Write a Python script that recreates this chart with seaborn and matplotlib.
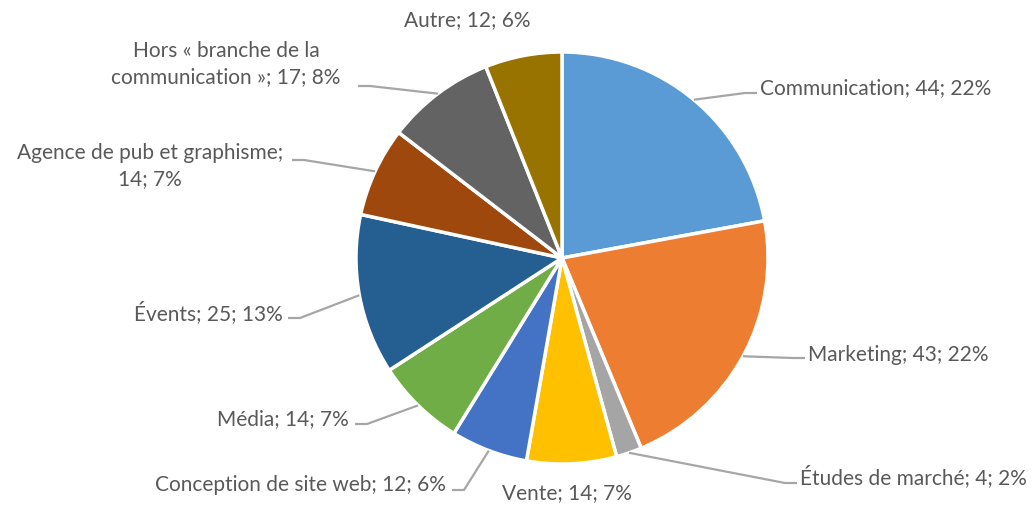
import numpy as np
import matplotlib
matplotlib.use("Agg")
import matplotlib.pyplot as plt
import seaborn as sns

categories = ["Communication", "Marketing", "Études de marché", "Vente",
              "Conception de site web", "Média", "Évents",
              "Agence de pub et graphisme",
              "Hors « branche de la communication »", "Autre"]
values = [44, 43, 4, 14, 12, 14, 25, 14, 17, 12]
percent_labels = ["22%", "22%", "2%", "7%", "6%", "7%", "13%", "7%", "8%", "6%"]
colors = ["#5B9BD5", "#ED7D31", "#A5A5A5", "#FFC000", "#4472C4",
          "#70AD47", "#255E91", "#9E480E", "#636363", "#997300"]

# label text as shown (line breaks), position in pixels (image coords), alignment, leader line
label_text = [
    "Communication; 44; 22%",
    "Marketing; 43; 22%",
    "Études de marché; 4; 2%",
    "Vente; 14; 7%",
    "Conception de site web; 12; 6%",
    "Média; 14; 7%",
    "Évents; 25; 13%",
    "Agence de pub et graphisme;\n14; 7%",
    "Hors « branche de la\ncommunication »; 17; 8%",
    "Autre; 12; 6%",
]
label_pos = [(760, 88), (808, 355), (800, 477), (567, 493), (446, 485),
             (349, 419), (283, 313), (150, 166), (226, 64), (467, 20)]
label_ha = ["left", "left", "left", "center", "right", "right", "right",
            "center", "center", "center"]
leader_end = [(757, 93), (805, 358), (797, 483), None, (452, 490),
              (355, 424), (288, 318), (292, 160), (358, 86), None]

W, H = 1035, 507
cx, cy, R = 562, 258, 206

sns.set_style("white")
plt.rcParams["font.family"] = ["Lato", "DejaVu Sans"]

fig = plt.figure(figsize=(W / 100, H / 100), dpi=100)
ax = fig.add_axes([0, 0, 1, 1])

ax.pie(values, colors=colors, startangle=90, counterclock=False,
       center=(cx, H - cy), radius=R, frame=True,
       wedgeprops=dict(edgecolor="white", linewidth=2.5))
ax.set_xlim(0, W)
ax.set_ylim(0, H)
ax.set_aspect("equal")
ax.axis("off")

total = sum(values)
cum = np.cumsum([0] + values[:-1])
text_color = "#595959"
line_color = "#A6A6A6"

for i, txt in enumerate(label_text):
    mid = np.deg2rad(90 - 360 * (cum[i] + values[i] / 2) / total)
    tx, ty = label_pos[i]
    ax.text(tx, H - ty, txt, ha=label_ha[i], va="center", fontsize=15,
            color=text_color, linespacing=1.35)
    if leader_end[i] is not None:
        ex, ey = leader_end[i]
        sx = cx + R * np.cos(mid)
        sy = (H - cy) + R * np.sin(mid)
        step = 12 if ex > cx else -12
        ax.plot([sx, ex - step, ex], [sy, H - ey, H - ey],
                color=line_color, linewidth=1.6, solid_capstyle="butt")

fig.savefig("out.png", dpi=100)
